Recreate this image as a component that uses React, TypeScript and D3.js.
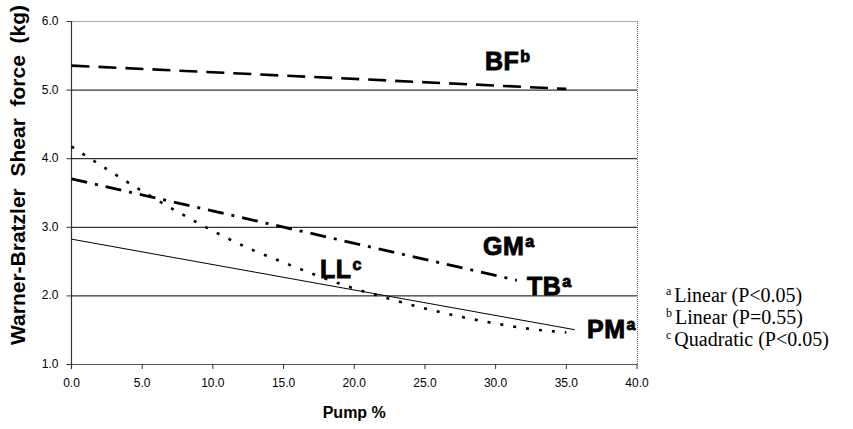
import React from "react";
import * as d3 from "d3";

const xTicks = [0, 5, 10, 15, 20, 25, 30, 35, 40];
const yTicks = [1, 2, 3, 4, 5, 6];

// Pump % values and shear force (kg)
const bfPump = [0, 35];
const bfShear = [5.35, 5.01];
const gmPump = [0, 31.5];
const gmShear = [3.7, 2.22];
const pmPump = [0, 35.6];
const pmShear = [2.82, 1.5];
const llPump = [0, 2.5, 5, 7.5, 10, 12.5, 15, 17.5, 20, 22.5, 25, 27.5, 30, 32.5, 35];
const llShear = [4.17, 3.84, 3.52, 3.22, 2.94, 2.69, 2.48, 2.28, 2.1, 1.95, 1.81, 1.69, 1.59, 1.51, 1.46];

const legendSup = ["a", "b", "c"];
const legendText = ["Linear (P<0.05)", "Linear (P=0.55)", "Quadratic (P<0.05)"];

const W = 853;
const H = 429;
const left = 71.5;
const right = 637;
const top = 21;
const bottom = 364;

export default function App() {
  const x = d3.scaleLinear().domain([0, 40]).range([left, right]);
  const y = d3.scaleLinear().domain([1, 6]).range([bottom, top]);
  const line = d3
    .line<[number, number]>()
    .x((d) => x(d[0]))
    .y((d) => y(d[1]));
  const curve = d3
    .line<[number, number]>()
    .x((d) => x(d[0]))
    .y((d) => y(d[1]))
    .curve(d3.curveMonotoneX);
  const zip = (a: number[], b: number[]) => a.map((v, i) => [v, b[i]] as [number, number]);

  const sans = "'Liberation Sans', Arial, sans-serif";
  const serif = "'Liberation Serif', 'Times New Roman', serif";

  const seriesLabel = (txt: string, sup: string, px: number, py: number) => (
    <text
      x={px}
      y={py}
      fontFamily={sans}
      fontWeight="bold"
      fontSize={25}
      fill="#000"
      stroke="#000"
      strokeWidth={0.9}
      letterSpacing={0.5}
    >
      {txt}
      <tspan fontSize={16} dy={-8} dx={1}>
        {sup}
      </tspan>
    </text>
  );

  return (
    <svg
      width={W}
      height={H}
      style={{ position: "absolute", left: 0, top: 0, background: "#fff" }}
    >
      {/* grid lines */}
      {yTicks.map((t) => {
        const dotted = t === 6 || t === 1;
        return (
          <line
            key={"g" + t}
            x1={left}
            x2={right}
            y1={y(t) + 0.5}
            y2={y(t) + 0.5}
            stroke={dotted ? "#555" : "#000"}
            strokeWidth={1}
            strokeDasharray={t === 6 ? "1,1" : undefined}
          />
        );
      })}
      {/* right border */}
      <line x1={right + 0.5} x2={right + 0.5} y1={top} y2={bottom} stroke="#666" strokeDasharray="1,1" />
      {/* left axis */}
      <line x1={left} x2={left} y1={top} y2={bottom + 5} stroke="#333" strokeWidth={1.2} />
      {/* y ticks */}
      {yTicks.map((t) => (
        <g key={"yt" + t}>
          <line x1={left - 5} x2={left} y1={y(t) + 0.5} y2={y(t) + 0.5} stroke="#333" />
          <text
            x={left - 13}
            y={y(t) + 4}
            textAnchor="end"
            fontFamily={sans}
            fontSize={12}
            fill="#000"
          >
            {t.toFixed(1)}
          </text>
        </g>
      ))}
      {/* x ticks */}
      {xTicks.map((t) => (
        <g key={"xt" + t}>
          <line x1={x(t)} x2={x(t)} y1={bottom} y2={bottom + 5} stroke="#333" />
          <text
            x={x(t)}
            y={bottom + 23}
            textAnchor="middle"
            fontFamily={sans}
            fontSize={12}
            fill="#000"
          >
            {t.toFixed(1)}
          </text>
        </g>
      ))}

      {/* series */}
      <path
        d={line(zip(bfPump, bfShear)) || ""}
        fill="none"
        stroke="#000"
        strokeWidth={2.6}
        strokeDasharray="18,9"
      />
      <path
        d={line(zip(gmPump, gmShear)) || ""}
        fill="none"
        stroke="#000"
        strokeWidth={2.8}
        strokeDasharray="16,8,3,8"
      />
      <path d={line(zip(pmPump, pmShear)) || ""} fill="none" stroke="#000" strokeWidth={1} />
      <path
        d={curve(zip(llPump, llShear)) || ""}
        fill="none"
        stroke="#000"
        strokeWidth={2.6}
        strokeDasharray="3,10"
      />

      {/* series labels */}
      {seriesLabel("BF", "b", 485, 70)}
      {seriesLabel("GM", "a", 483, 255)}
      {seriesLabel("LL", "c", 320, 278)}
      {seriesLabel("TB", "a", 527, 295)}
      {seriesLabel("PM", "a", 587, 338)}

      {/* axis titles */}
      <text
        transform="translate(25,175) rotate(-90)"
        textAnchor="middle"
        fontFamily={sans}
        fontWeight="bold"
        fontSize={21}
        fill="#000"
        style={{ whiteSpace: "pre" }}
      >
        {"Warner-Bratzler  Shear  force  (kg)"}
      </text>
      <text
        x={(left + right) / 2}
        y={418}
        textAnchor="middle"
        fontFamily={sans}
        fontWeight="bold"
        fontSize={16}
        fill="#000"
      >
        Pump %
      </text>

      {/* footnote legend */}
      {legendText.map((s, i) => (
        <text key={"lg" + i} x={666} y={302 + i * 22} fontFamily={serif} fontSize={20} fill="#000">
          <tspan fontSize={12} dy={-7}>
            {legendSup[i]}
          </tspan>
          <tspan dx={3} dy={7}>
            {s}
          </tspan>
        </text>
      ))}
    </svg>
  );
}
